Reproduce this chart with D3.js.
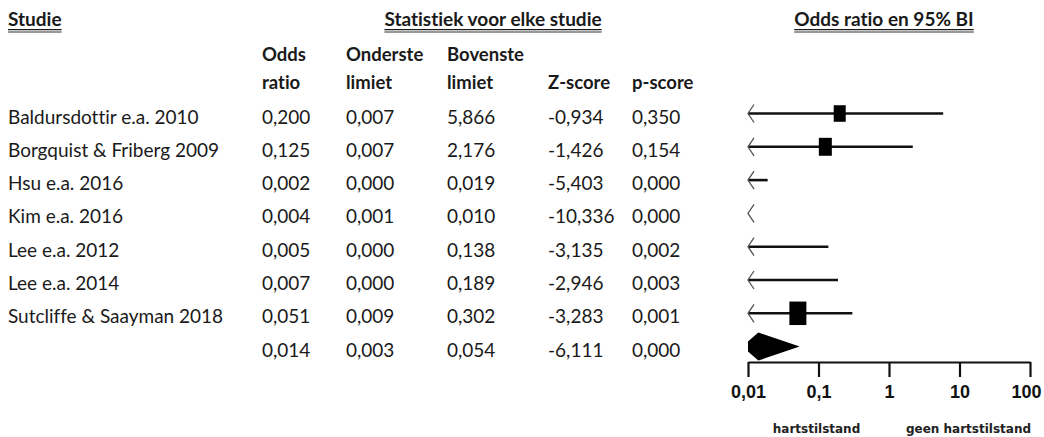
<!DOCTYPE html>
<html><head><meta charset="utf-8">
<script src="https://cdn.jsdelivr.net/npm/d3@7/dist/d3.min.js"></script>
<style>
html,body{margin:0;padding:0;background:#fff;}
svg{display:block;}
text{font-variant-ligatures:none;font-feature-settings:"liga" 0;}
</style></head>
<body>
<svg id="chart" width="1044" height="437"></svg>
<script>
// ---- data ----
const studies = ["Baldursdottir e.a. 2010","Borgquist & Friberg 2009","Hsu e.a. 2016","Kim e.a. 2016","Lee e.a. 2012","Lee e.a. 2014","Sutcliffe & Saayman 2018",""];
const oddsRatio = [0.200,0.125,0.002,0.004,0.005,0.007,0.051,0.014];
const lowerLimit = [0.007,0.007,0.000,0.001,0.000,0.000,0.009,0.003];
const upperLimit = [5.866,2.176,0.019,0.010,0.138,0.189,0.302,0.054];
const zScore = [-0.934,-1.426,-5.403,-10.336,-3.135,-2.946,-3.283,-6.111];
const pScore = [0.350,0.154,0.000,0.000,0.002,0.003,0.001,0.000];
const weights = [12,13,10,22,12,12,17]; // relative study weights (box size)
const isSummary = [false,false,false,false,false,false,false,true];
const axisTicks = [0.01,0.1,1,10,100];
const colHeaders = [["Odds","ratio"],["Onderste","limiet"],["Bovenste","limiet"],["","Z-score"],["","p-score"]];
const favourLabels = ["hartstilstand","geen hartstilstand"];

// ---- layout ----
const svg = d3.select("#chart");
const bodyFont = "Lato, 'Open Sans', sans-serif";
const textColor = "#1a1a1a";
const colX = [262,346,447,548,632];
const row = d3.scaleLinear().domain([0,7]).range([123.5,356.6]);
const x = d3.scaleLog().domain([0.01,100]).range([748,1030]);
const fmt = v => d3.format(".3f")(v).replace("\u2212","-").replace(".",",");

function underlined(g, txt, xp, y, anchor){
  const t = g.append("text").attr("x",xp).attr("y",y).attr("text-anchor",anchor)
    .attr("font-family",bodyFont).attr("font-weight","bold").attr("font-size",19)
    .attr("fill",textColor).text(txt);
  const bb = t.node().getBBox();
  g.append("line").attr("x1",bb.x).attr("x2",bb.x+bb.width).attr("y1",y+3.6).attr("y2",y+3.6)
    .attr("stroke",textColor).attr("stroke-width",1.3);
  g.append("line").attr("x1",bb.x).attr("x2",bb.x+bb.width).attr("y1",y+6).attr("y2",y+6)
    .attr("stroke",textColor).attr("stroke-width",0.9);
}
const head = svg.append("g");
underlined(head,"Studie",8,26,"start");
underlined(head,"Statistiek voor elke studie",493,26,"middle");
underlined(head,"Odds ratio en 95% BI",884,26,"middle");

colHeaders.forEach((h,i)=>{
  h.forEach((line,j)=>{
    if(!line) return;
    head.append("text").attr("x",colX[i]).attr("y",j===0?61:88.5)
      .attr("font-family",bodyFont).attr("font-weight","bold").attr("font-size",18.5)
      .attr("fill",textColor).text(line);
  });
});

// table rows
const rows = svg.append("g").attr("font-family",bodyFont).attr("font-size",19).attr("fill",textColor);
studies.forEach((s,i)=>{
  const y = row(i);
  if(s) rows.append("text").attr("x",8).attr("y",y).text(s);
  [oddsRatio[i],lowerLimit[i],upperLimit[i],zScore[i],pScore[i]].forEach((v,k)=>{
    rows.append("text").attr("x",colX[k]).attr("y",y).text(fmt(v));
  });
});

// forest plot
const plot = svg.append("g");
const [xmin,xmax] = x.domain();
const boxW = d3.scaleLinear().domain([0,10]).range([0,10]);
studies.forEach((s,i)=>{
  const y = row(i) - 10;
  const lo = lowerLimit[i] < xmin ? xmin : lowerLimit[i];
  const hi = Math.min(upperLimit[i], xmax);
  if(isSummary[i]){
    const clipped = lowerLimit[i] < xmin;
    const hh = 14;
    const pts = clipped
      ? [[x(xmin),y-5],[x(oddsRatio[i]),y-hh],[x(hi),y],[x(oddsRatio[i]),y+hh],[x(xmin),y+5]]
      : [[x(lo),y],[x(oddsRatio[i]),y-hh],[x(hi),y],[x(oddsRatio[i]),y+hh]];
    plot.append("polygon").attr("points",pts.map(p=>p.join(",")).join(" ")).attr("fill","#000");
    return;
  }
  if(hi > lo){
    plot.append("line").attr("x1",x(lo)).attr("x2",x(hi)).attr("y1",y).attr("y2",y)
      .attr("stroke","#111").attr("stroke-width",2.6);
  }
  if(lowerLimit[i] < xmin){
    const tx = x(xmin);
    plot.append("path").attr("d",`M${tx+6},${y-9}L${tx},${y}L${tx+6},${y+9}`)
      .attr("fill","none").attr("stroke","#555").attr("stroke-width",1.3);
  }
  if(oddsRatio[i] >= xmin && oddsRatio[i] <= xmax){
    const w = boxW(weights[i]), h = w*1.38;
    plot.append("rect").attr("x",x(oddsRatio[i])-w/2).attr("y",y-h/2).attr("width",w).attr("height",h)
      .attr("fill","#000");
  }
});

// axis
const axis = d3.axisBottom(x).tickValues(axisTicks).tickSize(15).tickSizeOuter(0).tickPadding(6)
  .tickFormat(d => String(d).replace(".",","));
const ag = svg.append("g").attr("transform","translate(0,362)").call(axis);
ag.select(".domain").attr("stroke","#111").attr("stroke-width",2.2);
ag.selectAll(".tick line").attr("stroke","#111").attr("stroke-width",2.2);
ag.selectAll(".tick text").attr("font-family","'Liberation Sans Narrow', 'Liberation Sans', sans-serif")
  .attr("font-weight","bold").attr("font-size",18).attr("fill","#111").attr("dy",0).attr("y",36)
  .attr("dx",(d,i,n)=> i===n.length-1 ? -4 : 0);

// favour labels
svg.append("g").selectAll("text").data(favourLabels).join("text")
  .attr("x",(d,i)=> i===0 ? (x(0.01)+x(1))/2 - 2 : (x(1)+x(100))/2 + 9)
  .attr("y",433).attr("text-anchor","middle")
  .attr("font-family","'DejaVu Sans', sans-serif").attr("font-weight","bold").attr("font-size",12)
  .attr("fill","#222").text(d=>d);
</script>
</body></html>
